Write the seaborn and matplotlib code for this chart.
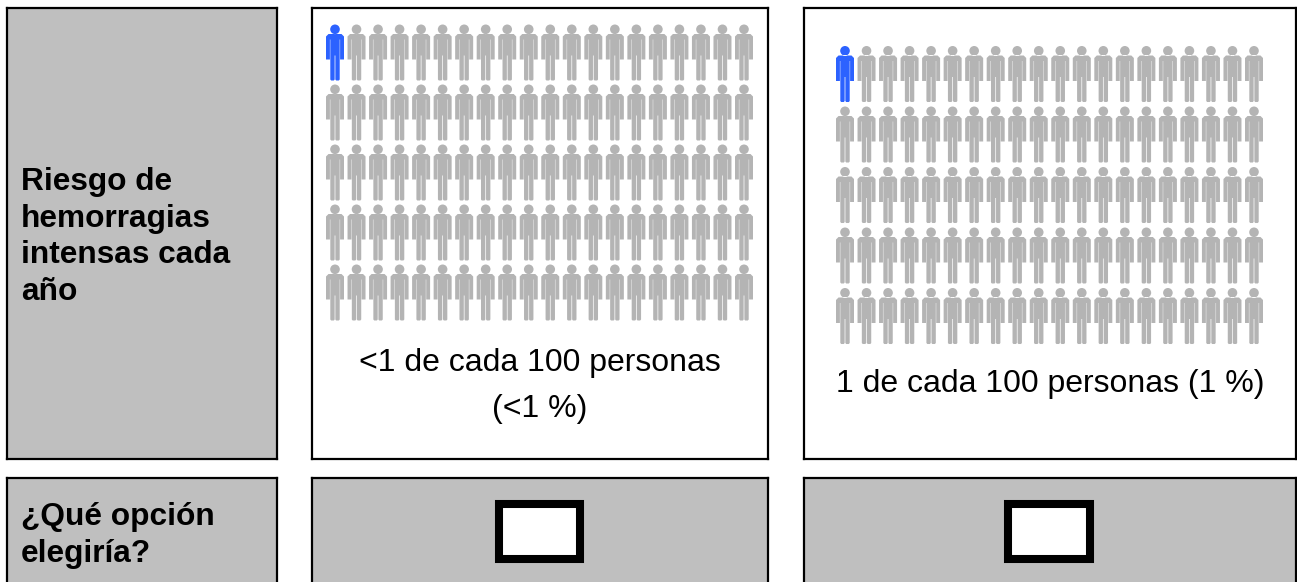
import numpy as np
import pandas as pd
import seaborn as sns
import matplotlib.pyplot as plt
from matplotlib.path import Path
from matplotlib.patches import Rectangle

ANCHO, ALTO = 1297, 582

etiqueta_riesgo = ["Riesgo de", "hemorragias", "intensas cada", "año"]
etiqueta_opcion = ["¿Qué opción", "elegiría?"]
texto_opciones = [["<1 de cada 100 personas", "(<1 %)"], ["1 de cada 100 personas (1 %)"]]
filas = 5
columnas = 20
afectadas = [1, 1]

sns.set_theme(style="white")
plt.rcParams['font.family'] = ['Liberation Sans', 'DejaVu Sans']


def caja(fig, x0, y0, x1, y1):
    # rectangulo en pixeles de la imagen, y hacia abajo
    return fig.add_axes([x0 / ANCHO, 1 - y1 / ALTO, (x1 - x0) / ANCHO, (y1 - y0) / ALTO])


def panel(fig, x0, y0, x1, y1, color):
    ax = caja(fig, x0, y0, x1, y1)
    ax.set_facecolor(color)
    ax.set_xticks([])
    ax.set_yticks([])
    ax.set_xlim(x0, x1)
    ax.set_ylim(y1, y0)
    for s in ax.spines.values():
        s.set_color('black')
        s.set_linewidth(1.6)
    return ax


def figura_persona():
    # silueta centrada en (0, 0), unidades en pixeles
    cuerpo = [(-6.5, 18.5), (6.5, 18.5), (9, 16), (9, -7), (5.1, -7), (5.1, 13), (4.7, 13),
              (4.7, -27), (3.8, -28), (1.2, -28), (0.35, -27), (0.35, -3), (-0.35, -3),
              (-0.35, -27), (-1.2, -28), (-3.8, -28), (-4.7, -27), (-4.7, 13), (-5.1, 13),
              (-5.1, -7), (-9, -7), (-9, 16), (-6.5, 18.5)]
    codigos = [Path.MOVETO] + [Path.LINETO] * (len(cuerpo) - 2) + [Path.CLOSEPOLY]
    cabeza = Path.circle((0, 23.2), 4.8)
    return Path.make_compound_path(cabeza, Path(cuerpo, codigos))


def pictograma(fig, x0, y0, x1, y1, n_afectadas):
    col, fil = np.meshgrid(np.arange(columnas), np.arange(filas))
    datos = pd.DataFrame({"col": col.ravel(), "fila": fil.ravel()})
    datos["grupo"] = ["si" if i < n_afectadas else "no" for i in range(len(datos))]
    ax = caja(fig, x0, y0, x1, y1)
    ax.patch.set_alpha(0)
    sns.scatterplot(data=datos, x="col", y="fila", hue="grupo",
                    palette={"si": "#2C62FF", "no": "#B4B4B4"}, marker=figura_persona(),
                    s=1626, linewidth=0, edgecolor='none', legend=False, clip_on=False, ax=ax)
    ax.set_xlim(0, columnas - 1)
    ax.set_ylim(filas - 1, 0)
    ax.axis('off')


fig = plt.figure(figsize=(ANCHO / 100, ALTO / 100), dpi=100)
gris = '#BFBFBF'

ax = panel(fig, 7, 8, 277, 459, gris)
for i, t in enumerate(etiqueta_riesgo):
    ax.text(21, 190.5 + i * 36.5, t, fontsize=22.8, fontweight='bold', color='black', va='baseline')

ax = panel(fig, 7, 478, 277, 590, gris)
for i, t in enumerate(etiqueta_opcion):
    ax.text(21, 525.5 + i * 36.8, t, fontsize=22.8, fontweight='bold', color='black', va='baseline')

cols = [(312, 768), (804, 1296)]
grid = [(335, 52.5, 744, 292.5), (845, 74, 1254, 316)]
ys_texto = [[371, 417], [392]]
for k, (x0, x1) in enumerate(cols):
    ax = panel(fig, x0, 8, x1, 459, 'white')
    centro = (x0 + x1) / 2
    for t, y in zip(texto_opciones[k], ys_texto[k]):
        ax.text(centro, y, t, fontsize=23, color='black', ha='center', va='baseline')
    ax = panel(fig, x0, 478, x1, 590, gris)
    ax.add_patch(Rectangle((centro - 41.5, 503.5), 81, 55.5, facecolor='white', edgecolor='black', linewidth=5.8))
    pictograma(fig, *grid[k], afectadas[k])

plt.savefig('out.png', dpi=100)
